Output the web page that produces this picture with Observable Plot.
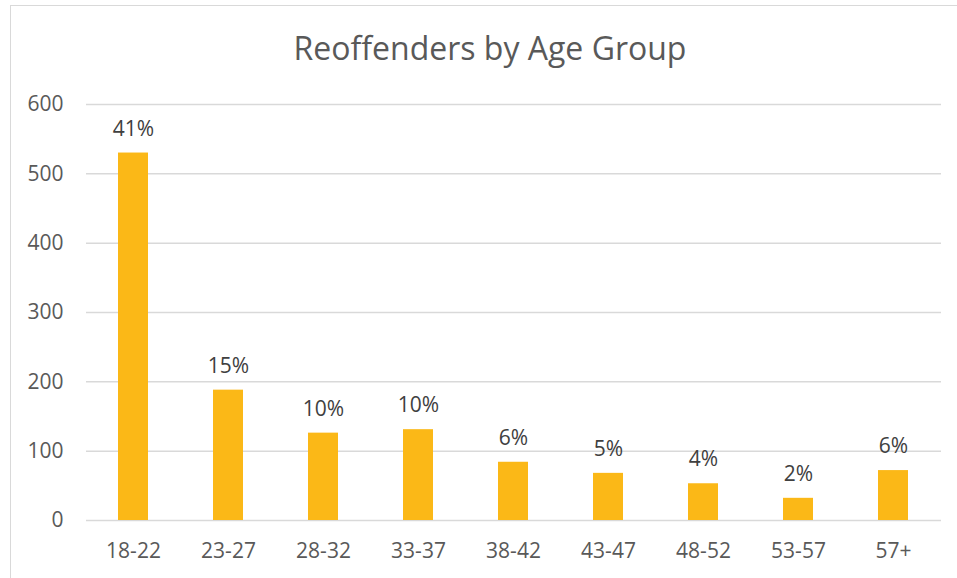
<!DOCTYPE html>
<html>
<head>
<meta charset="utf-8">
<script src="https://cdn.jsdelivr.net/npm/d3@7"></script>
<script src="https://cdn.jsdelivr.net/npm/@observablehq/plot@0.6"></script>
<style>
  html, body { margin: 0; padding: 0; background: #ffffff; }
  #page { position: relative; width: 957px; height: 578px; overflow: hidden; background: #fff; }
  #frame { position: absolute; left: 10px; top: 5px; width: 1000px; height: 700px;
           border-left: 1px solid #d9d9d9; border-top: 1px solid #d9d9d9; box-sizing: border-box; }
  #title { position: absolute; left: 0; top: 33px; width: 980px; text-align: center;
           font-family: "Open Sans", sans-serif; font-size: 32px; line-height: 30px; color: #595959; }
  #chart { position: absolute; left: 0; top: 80px; }
</style>
</head>
<body>
<div id="page">
  <div id="frame"></div>
  <div id="title">Reoffenders by Age Group</div>
  <div id="chart"></div>
</div>
<script>
const ageGroups = ["18-22", "23-27", "28-32", "33-37", "38-42", "43-47", "48-52", "53-57", "57+"];
const counts = [530, 188, 126, 131, 84, 68, 53, 32, 72];
const pctLabels = ["41%", "15%", "10%", "10%", "6%", "5%", "4%", "2%", "6%"];
const yTicks = [0, 100, 200, 300, 400, 500, 600];

const data = ageGroups.map((age, i) => ({age, count: counts[i], pct: pctLabels[i]}));

const chart = Plot.plot({
  width: 957,
  height: 498,
  marginTop: 24,
  marginBottom: 58,
  marginLeft: 86,
  marginRight: 16,
  style: {fontFamily: "'Open Sans', sans-serif", fontSize: "21px", color: "#595959", background: "transparent", overflow: "visible"},
  x: {domain: ageGroups, paddingInner: 0.684, paddingOuter: 0.342, label: null},
  y: {domain: [0, 600], label: null},
  marks: [
    Plot.gridY(yTicks, {stroke: "#d9d9d9", strokeOpacity: 1, strokeWidth: 1.5}),
    Plot.barY(data, {x: "age", y: "count", fill: "#FBB817"}),
    Plot.text(data, {x: "age", y: "count", text: "pct", dy: -24, fill: "#404040", fontSize: 21}),
    Plot.axisY({ticks: yTicks, tickSize: 0, tickPadding: 23, fontSize: 21, fill: "#595959", label: null}),
    Plot.axisX({tickSize: 0, tickPadding: 23, fontSize: 21, fill: "#595959", label: null})
  ]
});
document.getElementById("chart").appendChild(chart);
</script>
</body>
</html>
